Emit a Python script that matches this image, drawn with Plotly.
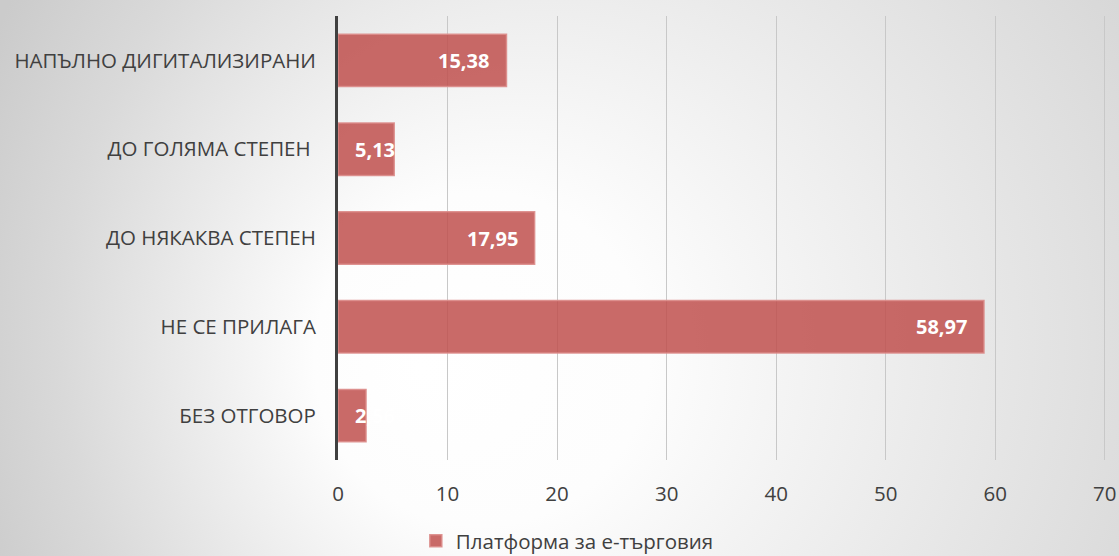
import base64
import plotly.graph_objects as go

# Survey answers (share of respondents, %) for the e-commerce platform question
categories = [
    "НАПЪЛНО ДИГИТАЛИЗИРАНИ",
    "ДО ГОЛЯМА СТЕПЕН\u00a0",
    "ДО НЯКАКВА СТЕПЕН",
    "НЕ СЕ ПРИЛАГА",
    "БЕЗ ОТГОВОР",
]
values = [15.38, 5.13, 17.95, 58.97, 2.56]
series_name = "Платформа за е-търговия"
x_ticks = [0, 10, 20, 30, 40, 50, 60, 70]

W, H = 1119, 556
L, R, T, B = 338, 12, 16, 96
plot_w = W - L - R
plot_h = H - T - B

# soft radial background behind the whole figure
svg = f"""<svg xmlns='http://www.w3.org/2000/svg' width='{W}' height='{H}' viewBox='0 0 {W} {H}' preserveAspectRatio='none'>
<defs><radialGradient id='g' gradientUnits='userSpaceOnUse' cx='700' cy='320' r='760' fx='420' fy='370'>
<stop offset='0' stop-color='#ffffff'/>
<stop offset='0.22' stop-color='#fdfdfd'/>
<stop offset='0.5' stop-color='#eaeaea'/>
<stop offset='0.75' stop-color='#d9d9d9'/>
<stop offset='1' stop-color='#cbcbcb'/>
</radialGradient></defs>
<rect x='0' y='0' width='{W}' height='{H}' fill='url(#g)'/>
</svg>"""
bg_src = "data:image/svg+xml;base64," + base64.b64encode(svg.encode()).decode()

fig = go.Figure()
fig.add_trace(go.Bar(
    y=categories,
    x=values,
    orientation="h",
    name=series_name,
    marker=dict(color="rgba(192,80,77,0.85)",
                line=dict(color="rgba(220,140,138,0.9)", width=1.5)),
    width=0.59,
    hoverinfo="skip",
))

# value labels: inside the bar end, or from the bar start when the bar is short
for cat, v in zip(categories, values):
    label = f"{v:.2f}".replace(".", ",")
    short = v < 8
    fig.add_annotation(
        x=0 if short else v, y=cat, xref="x", yref="y",
        text=f"<b>{label}</b>", showarrow=False,
        xanchor="left" if short else "right",
        xshift=15 if short else -15,
        font=dict(family="Open Sans", size=20, color="white"),
    )

fig.add_layout_image(dict(
    source=bg_src, xref="paper", yref="paper",
    x=-L / plot_w, y=1 + T / plot_h,
    sizex=W / plot_w, sizey=H / plot_h,
    xanchor="left", yanchor="top", sizing="stretch", layer="below",
))

fig.update_layout(
    width=W, height=H,
    margin=dict(l=L, r=R, t=T, b=B, pad=0, autoexpand=False),
    paper_bgcolor="rgba(0,0,0,0)",
    plot_bgcolor="rgba(0,0,0,0)",
    font=dict(family="Open Sans", color="#404040", size=20.5),
    showlegend=True,
    legend=dict(orientation="h", xref="container", yref="container",
                x=0.507, y=1 - 521 / H, xanchor="center", yanchor="top",
                font=dict(size=20.5, color="#404040"),
                bgcolor="rgba(0,0,0,0)"),
    xaxis=dict(range=[0, 70.2], tickvals=x_ticks, ticktext=[str(t) for t in x_ticks],
               showgrid=True, gridcolor="#c8c8c8", gridwidth=1.2,
               zeroline=False, showline=False, ticks="", automargin=False,
               ticklabelstandoff=19, tickfont=dict(size=20.5, color="#404040")),
    yaxis=dict(autorange="reversed", showline=True, linecolor="#404040", linewidth=3,
               showgrid=False, ticks="", ticklabelstandoff=15, automargin=False,
               tickfont=dict(size=20.5, color="#404040")),
    bargap=0.41,
)

fig.write_html("out.html")
